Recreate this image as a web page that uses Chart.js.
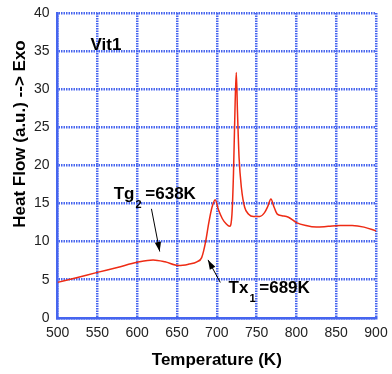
<!DOCTYPE html>
<html>
<head>
<meta charset="utf-8">
<script src="https://cdn.jsdelivr.net/npm/chart.js@4.4.1/dist/chart.umd.min.js"></script>
<style>
  html, body { margin: 0; padding: 0; background: #fff; }
  #wrap { width: 392px; height: 374px; }
</style>
</head>
<body>
<div id="wrap"><canvas id="chart" width="392" height="374"></canvas></div>
<script>
// DSC trace
const temps = [500, 525, 550, 575, 600, 620, 635, 652, 665, 675, 681, 686, 690, 694, 698, 702, 707, 712, 716, 719, 721, 723, 724.5, 726, 728, 731, 735, 740, 746, 754, 760, 764, 768, 772, 776, 782, 790, 800, 812, 825, 840, 855, 870, 885, 900];
const heatFlow = [4.65, 5.3, 5.96, 6.6, 7.28, 7.6, 7.35, 6.85, 7.05, 7.35, 7.9, 10.0, 12.5, 14.5, 15.5, 14.2, 13.0, 12.3, 12.0, 13.5, 19, 28, 32.2, 27, 21, 17, 14.5, 13.6, 13.3, 13.3, 13.8, 14.6, 15.6, 14.5, 13.6, 13.4, 13.2, 12.5, 12.1, 11.9, 12.0, 12.1, 12.1, 11.9, 11.4];

const xTicks = [500, 550, 600, 650, 700, 750, 800, 850, 900];
const yTicks = [0, 5, 10, 15, 20, 25, 30, 35, 40];

// annotations: [label, subscript, rest, x, y]
const notes = [
    ['Vit1', '', '', 541.4, 35.1],
    ['Tg', '2', ' =638K', 570.5, 15.6],
    ['Tx', '1', ' =689K', 714.8, 3.25]
];
// arrows: [fromX, fromY, toX, toY]
const arrows = [
    [617.9, 14.3, 628.3, 8.7],
    [704.4, 4.64, 689, 7.6]
];

const FONT = '"Liberation Sans", Arial, sans-serif';
const gridBlue = '#4665ef';

const points = temps.map((t, i) => ({ x: t, y: heatFlow[i] }));

const extras = {
    id: 'extras',
    afterDatasetsDraw(chart) {
        const ctx = chart.ctx;
        const xs = chart.scales.x, ys = chart.scales.y;
        ctx.save();
        ctx.fillStyle = '#000';
        ctx.strokeStyle = '#000';

        // y axis title, sits a bit above center like the original
        ctx.save();
        ctx.translate(20, 134);
        ctx.rotate(-Math.PI / 2);
        ctx.font = 'bold 17px ' + FONT;
        ctx.textAlign = 'center';
        ctx.textBaseline = 'middle';
        ctx.fillText('Heat Flow (a.u.) --> Exo', 0, 0);
        ctx.restore();

        notes.forEach(n => {
            let px = xs.getPixelForValue(n[3]);
            const py = ys.getPixelForValue(n[4]);
            ctx.textBaseline = 'alphabetic';
            ctx.textAlign = 'left';
            ctx.font = 'bold 17px ' + FONT;
            ctx.fillText(n[0], px, py);
            px += ctx.measureText(n[0]).width;
            if (n[1]) {
                ctx.font = 'bold 11px ' + FONT;
                ctx.fillText(n[1], px + 1, py + 9);
                px += ctx.measureText(n[1]).width;
                ctx.font = 'bold 17px ' + FONT;
                ctx.fillText(n[2], px, py);
            }
        });

        arrows.forEach(a => {
            const x1 = xs.getPixelForValue(a[0]), y1 = ys.getPixelForValue(a[1]);
            const x2 = xs.getPixelForValue(a[2]), y2 = ys.getPixelForValue(a[3]);
            const ang = Math.atan2(y2 - y1, x2 - x1);
            ctx.lineWidth = 1;
            ctx.beginPath();
            ctx.moveTo(x1, y1);
            ctx.lineTo(x2, y2);
            ctx.stroke();
            const len = 10, w = 0.32;
            ctx.beginPath();
            ctx.moveTo(x2, y2);
            ctx.lineTo(x2 - len * Math.cos(ang - w), y2 - len * Math.sin(ang - w));
            ctx.lineTo(x2 - len * Math.cos(ang + w), y2 - len * Math.sin(ang + w));
            ctx.closePath();
            ctx.fill();
        });
        ctx.restore();
    }
};

const axisCommon = {
    type: 'linear',
    grid: { color: gridBlue, lineWidth: 2.5, drawTicks: false },
    border: { color: gridBlue, width: 2.5, dash: [1.5, 1] },
    ticks: { color: '#222', font: { family: FONT, size: 14 }, padding: 8 }
};

new Chart(document.getElementById('chart'), {
    type: 'line',
    data: {
        datasets: [{
            data: points,
            borderColor: '#ee2b14',
            borderWidth: 1.5,
            pointRadius: 0,
            cubicInterpolationMode: 'monotone',
            fill: false
        }]
    },
    options: {
        responsive: false,
        animation: false,
        layout: { padding: { left: 26, right: 16, top: 13, bottom: 1 } },
        plugins: { legend: { display: false }, tooltip: { enabled: false } },
        scales: {
            x: {
                ...axisCommon,
                min: 500, max: 900,
                ticks: { ...axisCommon.ticks, padding: 7 },
                afterBuildTicks: s => { s.ticks = xTicks.map(v => ({ value: v })); },
                afterFit: s => { s.paddingRight = 0; s.paddingLeft = 0; },
                title: {
                    display: true, text: 'Temperature (K)', color: '#000',
                    font: { family: FONT, size: 17, weight: 'bold' },
                    padding: { top: 2, bottom: 2 }
                }
            },
            y: {
                ...axisCommon,
                min: 0, max: 40,
                afterBuildTicks: s => { s.ticks = yTicks.map(v => ({ value: v })); },
                afterFit: s => { s.paddingTop = 0; s.paddingBottom = 0; }
            }
        }
    },
    plugins: [extras]
});
</script>
</body>
</html>
